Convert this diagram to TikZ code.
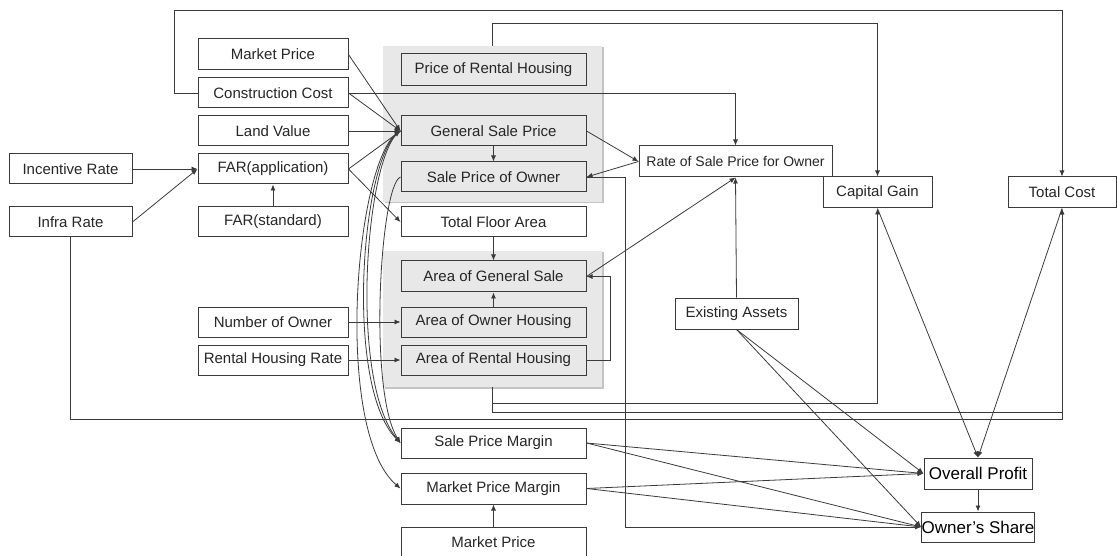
\documentclass[tikz,border=0pt]{standalone}
\usepackage{fontspec}
\setmainfont{Liberation Sans}
\usetikzlibrary{arrows.meta,shadows}
\definecolor{ln}{HTML}{3A3A3A}
\definecolor{pnl}{HTML}{E8E8E8}
\definecolor{pnlsh}{HTML}{C4C4C4}
\begin{document}
\begin{tikzpicture}[x=1pt,y=-1pt,
  box/.style={draw=ln, line width=1pt, fill=white, inner sep=0pt, font=\fontsize{15}{17}\selectfont, text=black!85},
  gbox/.style={box, fill=pnl},
  big/.style={box, font=\fontsize{17}{19}\selectfont, text=black},
  panel/.style={fill=pnl, draw=none, inner sep=0pt, drop shadow={shadow xshift=1.5pt, shadow yshift=-1.5pt, fill=pnlsh, opacity=1}},
  conn/.style={draw=ln, line width=0.8pt, -{Latex[length=6pt,width=5pt]}},
]
\useasboundingbox (0,0) rectangle (1117,556);
% panels
\node[panel, minimum width=219pt, minimum height=156pt] (p1) at (492.5,124) {};
\node[panel, minimum width=219pt, minimum height=136pt] (p2) at (492.5,319) {};
% left column
\node[box, minimum width=150pt, minimum height=31pt] (mp1) at (273,54.5) {Market Price};
\node[box, minimum width=150pt, minimum height=30pt] (cc) at (273,93) {Construction Cost};
\node[box, minimum width=150pt, minimum height=30pt] (lv) at (273,131) {Land Value};
\node[box, minimum width=150pt, minimum height=30pt] (fara) at (273,169) {FAR(application)};
\node[box, minimum width=150pt, minimum height=30pt] (fars) at (273,222) {FAR(standard)};
\node[box, minimum width=123pt, minimum height=30pt] (inc) at (70.5,169) {Incentive Rate};
\node[box, minimum width=123pt, minimum height=30pt] (inf) at (70.5,222) {Infra Rate};
\node[box, minimum width=150pt, minimum height=30pt] (nown) at (273,322) {Number of Owner};
\node[box, minimum width=150pt, minimum height=30pt] (rhr) at (273,360) {Rental Housing Rate};
% middle column
\node[gbox, minimum width=185pt, minimum height=32pt] (prh) at (493.5,70) {Price of Rental Housing};
\node[gbox, minimum width=185pt, minimum height=30pt] (gsp) at (493.5,131) {General Sale Price};
\node[gbox, minimum width=185pt, minimum height=30pt] (spo) at (493.5,177) {Sale Price of Owner};
\node[box, minimum width=185pt, minimum height=30pt] (tfa) at (493.5,222) {Total Floor Area};
\node[gbox, minimum width=185pt, minimum height=31pt] (ags) at (493.5,276.5) {Area of General Sale};
\node[gbox, minimum width=185pt, minimum height=30pt] (aoh) at (493.5,322) {Area of Owner Housing};
\node[gbox, minimum width=185pt, minimum height=30pt] (arh) at (493.5,360) {Area of Rental Housing};
\node[box, minimum width=185pt, minimum height=30pt] (spm) at (493.5,443) {Sale Price Margin};
\node[box, minimum width=185pt, minimum height=31pt] (mpm) at (493.5,488.5) {Market Price Margin};
\node[box, minimum width=185pt, minimum height=30pt] (mp2) at (493.5,542) {Market Price};
% right side
\node[box, font=\fontsize{14}{16}\selectfont, minimum width=193pt, minimum height=31pt] (rate) at (735.5,161.5) {Rate of Sale Price for Owner};
\node[box, minimum width=109pt, minimum height=31pt] (cg) at (877.5,192.5) {Capital Gain};
\node[box, minimum width=108pt, minimum height=31pt] (tc) at (1062,192.5) {Total Cost};
\node[box, minimum width=123pt, minimum height=31pt] (ea) at (736.5,313.5) {Existing Assets};
\node[big, minimum width=108pt, minimum height=31pt] (op) at (978,473.5) {Overall Profit};
\node[big, minimum width=108pt, minimum height=30pt] (os) at (978,527) {Owner’s Share};
% connectors
\draw[conn] (cc.west) -| (174,10) -| (tc.north);
\draw[conn] (p1.north) -- (492.5,23) -| (cg.north);
\draw[conn] (cc.east) -| (rate.north);
\draw[conn] (mp1.east) -- (gsp.west);
\draw[conn] (cc.east) -- (gsp.west);
\draw[conn] (lv.east) -- (gsp.west);
\draw[conn] (fara.east) -- (gsp.west);
\draw[conn] (fara.east) -- (tfa.west);
\draw[conn] (inc.east) -- (fara.west);
\draw[conn] (inf.east) -- (fara.west);
\draw[conn] (fars.north) -- (fara.south);
\draw[conn] (gsp.south) -- (spo.north);
\draw[conn] (gsp.east) -- (rate.west);
\draw[conn] (rate.west) -- (spo.east);
\draw[conn] (spo.east) -| (625,527) -- (os.west);
\draw[conn] (tfa.south) -- (ags.north);
\draw[conn] (aoh.north) -- (ags.south);
\draw[conn] (nown.east) -- (aoh.west);
\draw[conn] (rhr.east) -- (arh.west);
\draw[conn] (arh.east) -- (610,360) |- (ags.east);
\draw[conn] (ags.east) -- (rate.south);
\draw[conn] (ea.north) -- (rate.south);
\draw[conn] (p2.south) -- (492.5,403) -| (cg.south);
\draw[conn] (p2.south) -- (492.5,412) -| (tc.south);
\draw[conn] (inf.south) -- (70.5,419) -| (tc.south);
\draw[conn] (cg.south) -- (op.north);
\draw[conn] (tc.south) -- (op.north);
\draw[conn] (op.south) -- (os.north);
\draw[conn] (ea.south) -- (op.west);
\draw[conn] (ea.south) -- (os.west);
\draw[conn] (spm.east) -- (op.west);
\draw[conn] (spm.east) -- (os.west);
\draw[conn] (mpm.east) -- (op.west);
\draw[conn] (mpm.east) -- (os.west);
\draw[conn] (mp2.north) -- (mpm.south);
% curves
\draw[conn] (gsp.west) .. controls (366,150) and (348,380) .. (spm.west);
\draw[conn] (gsp.west) .. controls (362,150) and (343,385) .. (spm.west);
\draw[conn] (gsp.west) .. controls (356,150) and (332,430) .. (mpm.west);
\draw[conn] (spo.west) .. controls (380,185) and (368,392) .. (spm.west);
\end{tikzpicture}
\end{document}
